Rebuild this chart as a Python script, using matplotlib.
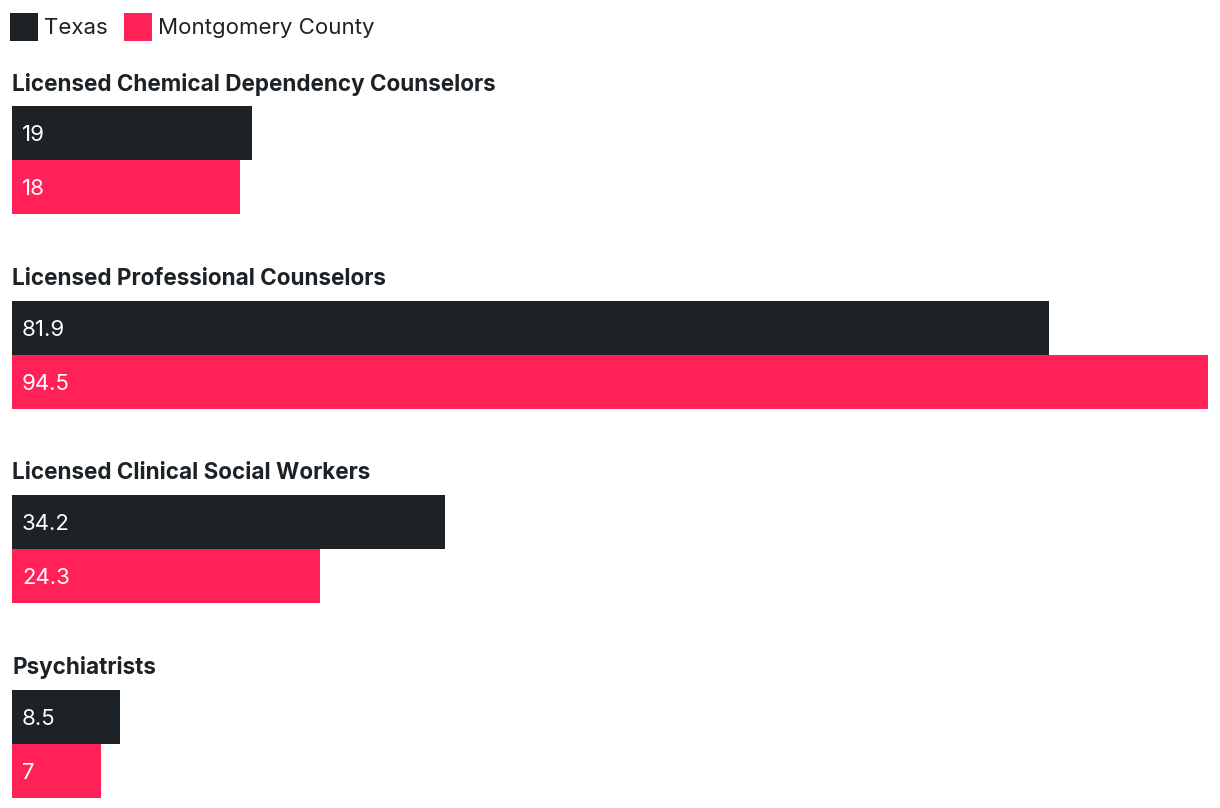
import matplotlib.pyplot as plt
from matplotlib.patches import Rectangle

plt.rcParams["font.family"] = ["Inter", "DejaVu Sans"]

categories = [
    "Licensed Chemical Dependency Counselors",
    "Licensed Professional Counselors",
    "Licensed Clinical Social Workers",
    "Psychiatrists",
]
texas = [19, 81.9, 34.2, 8.5]
montgomery = [18, 94.5, 24.3, 7]
labels_texas = ["19", "81.9", "34.2", "8.5"]
labels_mont = ["18", "94.5", "24.3", "7"]

DARK = "#1d2226"
PINK = "#ff2158"

W, H = 1220, 808
fig = plt.figure(figsize=(W / 100, H / 100), dpi=100)
ax = fig.add_axes([0, 0, 1, 1])

# x in data units, y in pixel-like layout units
left_px, right_px = 12, 1208
vmax = max(max(texas), max(montgomery))
scale = (right_px - left_px) / vmax
ax.set_xlim(-left_px / scale, (W - left_px) / scale)
ax.set_ylim(H, 0)
ax.axis("off")

bar_h = 54
first_top = 106
step = 194.6

for i, cat in enumerate(categories):
    top = first_top + i * step
    ax.text(0, top - 22, cat, fontsize=16.2, fontweight="bold", color=DARK,
            va="center", ha="left")
    ax.barh(top + bar_h / 2, texas[i], height=bar_h, left=0, color=DARK)
    ax.barh(top + bar_h * 1.5, montgomery[i], height=bar_h, left=0, color=PINK)
    ax.text(10 / scale, top + bar_h / 2 + 2, labels_texas[i], fontsize=16,
            color="white", va="center", ha="left")
    ax.text(10 / scale, top + bar_h * 1.5 + 2, labels_mont[i], fontsize=16,
            color="white", va="center", ha="left")

# legend
def px(x):
    return (x - left_px) / scale

ax.add_patch(Rectangle((px(10), 13), 28 / scale, 28, color=DARK, lw=0))
ax.text(px(44), 28, "Texas", fontsize=16, color=DARK, va="center", ha="left")
ax.add_patch(Rectangle((px(124), 13), 28 / scale, 28, color=PINK, lw=0))
ax.text(px(158), 28, "Montgomery County", fontsize=16, color=DARK,
        va="center", ha="left")

fig.savefig("out.png", dpi=100)
